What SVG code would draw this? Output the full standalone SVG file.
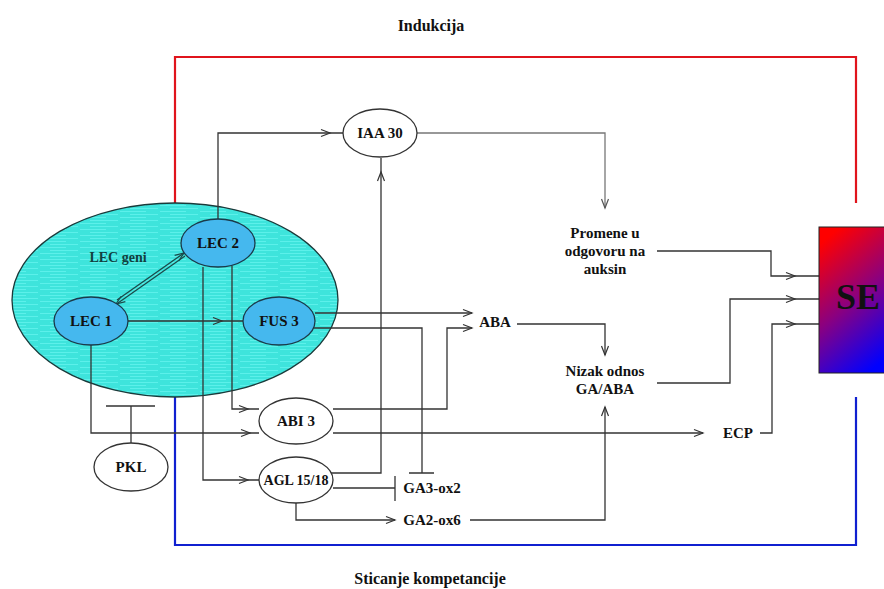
<svg xmlns="http://www.w3.org/2000/svg" xmlns:xlink="http://www.w3.org/1999/xlink" width="884" height="589" viewBox="0 0 884 589">
<style>
  text{font-family:"Liberation Serif","Times New Roman",serif;font-weight:bold;fill:#111;text-anchor:middle;dominant-baseline:central}
  .lbl{font-size:15px}
  .title{font-size:16px}
  .c{fill:none;stroke:#333;stroke-width:1.3}
  .g{fill:none;stroke:#777;stroke-width:1.3}
  .ah{fill:none;stroke:#333;stroke-width:1.2}
  .node{fill:#fff;stroke:#333;stroke-width:1.3}
  .lec{fill:#45b8ee;stroke:#1a3a4a;stroke-width:1.3}
</style>
<defs>
  <path id="ah" d="M-9,-3.5 L0,0 L-9,3.5"/>
  <linearGradient id="seg" x1="0.3" y1="0" x2="0.7" y2="1">
    <stop offset="0" stop-color="#ff0000"/>
    <stop offset="0.5" stop-color="#8a0080"/>
    <stop offset="1" stop-color="#0000ff"/>
  </linearGradient>
  <pattern id="streak" width="40" height="6" patternUnits="userSpaceOnUse">
    <rect width="40" height="6" fill="#3ee4dc"/>
    <path d="M0,1.5 H26 M10,4.5 H38" stroke="#5cf0ea" stroke-width="1"/>
  </pattern>
</defs>
<rect width="884" height="589" fill="#fff"/>

<g id="frame">
  <path d="M175,203 V57 H856 V203" fill="none" stroke="#e0141c" stroke-width="2.2"/>
  <path d="M175,397 V545 H856 V397" fill="none" stroke="#1020d0" stroke-width="2.2"/>
  <text class="title" x="431" y="25">Indukcija</text>
  <text class="title" x="430" y="578">Sticanje kompetancije</text>
</g>

<g id="lec-geni">
  <ellipse cx="175" cy="300" rx="163" ry="97" fill="url(#streak)" stroke="#1a3a3a" stroke-width="1.3"/>
  <text class="lbl" x="118" y="257" style="fill:#124040;font-size:14px">LEC geni</text>
</g>

<g id="connectors">
  <path class="c" d="M128,321 H243"/>
  <use href="#ah" class="ah" transform="translate(222,321)"/>
  <path class="c" d="M218,219 V133 H343"/>
  <use href="#ah" class="ah" transform="translate(330,133)"/>
  <path class="g" d="M417,133 H605 V208"/>
  <use href="#ah" class="ah" transform="translate(605,208) rotate(90)" style="stroke:#555"/>
  <path class="c" d="M203,267 V480 H259"/>
  <use href="#ah" class="ah" transform="translate(248,480)"/>
  <path class="c" d="M232,266 V409 H259"/>
  <use href="#ah" class="ah" transform="translate(248,409)"/>
  <path class="c" d="M91,345 V433 H259"/>
  <use href="#ah" class="ah" transform="translate(250,433)"/>
  <path class="c" d="M333,433 H703"/>
  <use href="#ah" class="ah" transform="translate(703,433)"/>
  <path class="c" d="M760,433 H772 V324 H819"/>
  <use href="#ah" class="ah" transform="translate(795,324)"/>
  <path class="c" d="M657,251 H771 V276 H819"/>
  <use href="#ah" class="ah" transform="translate(795,276)"/>
  <path class="c" d="M657,383 H730 V299 H819"/>
  <use href="#ah" class="ah" transform="translate(795,299)"/>
  <path class="c" d="M315,313 H472"/>
  <use href="#ah" class="ah" transform="translate(472,313)"/>
  <path class="c" d="M333,409 H447 V328 H472"/>
  <use href="#ah" class="ah" transform="translate(472,328)"/>
  <path class="c" d="M313,328 H422 V473 M409,473 H434"/>
  <path class="c" d="M331,473 H381 V158"/>
  <use href="#ah" class="ah" transform="translate(381,172) rotate(-90)"/>
  <path class="c" d="M333,488 H395 M395,476 V501"/>
  <path class="c" d="M296,503 V520 H395"/>
  <use href="#ah" class="ah" transform="translate(395,520)"/>
  <path class="c" d="M470,520 H605 V407"/>
  <use href="#ah" class="ah" transform="translate(605,407) rotate(-90)"/>
  <path class="c" d="M517,324 H605 V355"/>
  <use href="#ah" class="ah" transform="translate(605,355) rotate(90)"/>
  <path class="c" d="M131,443 V406 M106,406 H155"/>
  <path class="c" d="M117,300 L184,253" style="stroke:#1a4a4a"/>
  <use href="#ah" class="ah" transform="translate(184,253) rotate(-35)" style="stroke:#1a4a4a"/>
  <path class="c" d="M185,256 L118,303" style="stroke:#1a4a4a"/>
  <use href="#ah" class="ah" transform="translate(116,304) rotate(145)" style="stroke:#1a4a4a"/>
</g>

<g id="lec2"><ellipse class="lec" cx="218" cy="243" rx="37" ry="24"/><text class="lbl" x="218" y="243">LEC 2</text></g>
<g id="lec1"><ellipse class="lec" cx="91" cy="321" rx="37" ry="24"/><text class="lbl" x="91" y="321">LEC 1</text></g>
<g id="fus3"><ellipse class="lec" cx="279" cy="321" rx="36" ry="24"/><text class="lbl" x="279" y="321">FUS 3</text></g>
<g id="iaa30"><ellipse class="node" cx="380" cy="133" rx="37" ry="24"/><text class="lbl" x="380" y="133">IAA 30</text></g>
<g id="abi3"><ellipse class="node" cx="296" cy="421" rx="37" ry="23"/><text class="lbl" x="296" y="421">ABI 3</text></g>
<g id="agl"><ellipse class="node" cx="296" cy="480" rx="37" ry="23"/><text class="lbl" x="296" y="480" style="font-size:14px">AGL 15/18</text></g>
<g id="pkl"><ellipse class="node" cx="131" cy="467" rx="37" ry="24"/><text class="lbl" x="131" y="467">PKL</text></g>
<g id="promene">
  <text class="lbl" x="605" y="233">Promene u</text>
  <text class="lbl" x="605" y="251">odgovoru na</text>
  <text class="lbl" x="605" y="269">auksin</text>
</g>
<g id="aba"><text class="lbl" x="495" y="322">ABA</text></g>
<g id="nizak">
  <text class="lbl" x="605" y="371">Nizak odnos</text>
  <text class="lbl" x="605" y="389">GA/ABA</text>
</g>
<g id="ecp"><text class="lbl" x="738" y="433">ECP</text></g>
<g id="ga3"><text class="lbl" x="432" y="488">GA3-ox2</text></g>
<g id="ga2"><text class="lbl" x="432" y="520">GA2-ox6</text></g>
<g id="se">
  <rect x="819" y="227" width="70" height="146" fill="url(#seg)" stroke="#222" stroke-width="1"/>
  <text x="858" y="297" style="font-size:36px;fill:#111">SE</text>
</g>
</svg>
